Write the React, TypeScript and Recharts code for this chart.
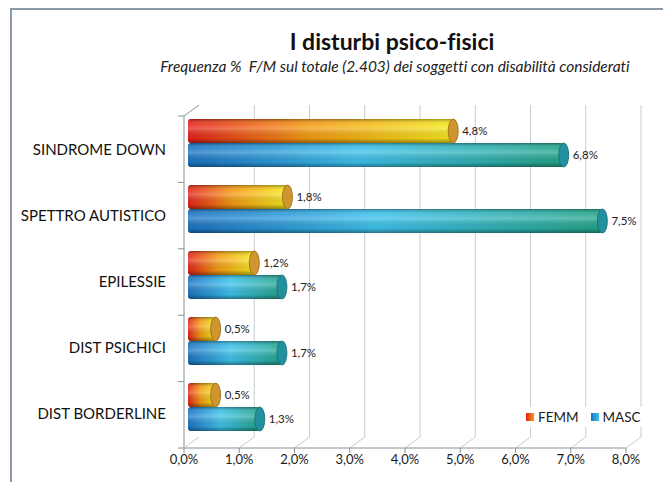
import { BarChart, Bar, XAxis, YAxis, CartesianGrid, LabelList } from 'recharts'

const categories = ['SINDROME DOWN', 'SPETTRO AUTISTICO', 'EPILESSIE', 'DIST PSICHICI', 'DIST BORDERLINE']
const femm = [4.8, 1.8, 1.2, 0.5, 0.5]
const masc = [6.8, 7.5, 1.7, 1.7, 1.3]
const xTicks = [0, 1, 2, 3, 4, 5, 6, 7, 8]

const data = categories.map((c, i) => ({ name: c, femm: femm[i], masc: masc[i] }))

const FONT = 'Lato, "Open Sans", sans-serif'
const DEPTH = 15 // 3d depth of the back wall, px
const RISE = 11

function fmtPct(v: number): string {
  return `${Number(v).toFixed(1).replace('.', ',')}%`
}

// cylinder-like bar: horizontal colour gradient, vertical shading, elliptic end cap
const makeCylinder = (grad: string, cap: string, capEdge: string) => (props: any) => {
  const { y, width, height } = props
  if (!width || width <= 0) return null
  const x = props.x + 4
  const r = height / 2
  const rx = 5
  return (
    <g>
      <rect x={x} y={y} width={width} height={height} rx={3} fill={`url(#${grad})`} />
      <rect x={x} y={y} width={width} height={height} rx={3} fill="url(#shade)" />
      <ellipse cx={x + width} cy={y + r} rx={rx} ry={r} fill={cap} stroke={capEdge} strokeWidth={0.8} />
    </g>
  )
}

const FemmBar = makeCylinder('gFemm', '#cf9630', '#9a6410')
const MascBar = makeCylinder('gMasc', '#23909e', '#146a78')

// vertical grid lines drawn on the back wall, with floor diagonals
const WallLine = (p: any) => {
  const x = p.x1
  const top = p.y1
  const bottom = p.y2
  const stroke = '#c4ccd3'
  if (p.index === 0) {
    return (
      <g key={p.key}>
        <line x1={x} y1={top + RISE} x2={x} y2={bottom} stroke="#8a9096" />
        <line x1={x} y1={top + RISE} x2={x + DEPTH} y2={top} stroke="#8a9096" />
        <line x1={x} y1={bottom} x2={x + DEPTH} y2={bottom - RISE} stroke={stroke} />
      </g>
    )
  }
  return (
    <g key={p.key}>
      <line x1={x + DEPTH} y1={top} x2={x + DEPTH} y2={bottom - RISE} stroke={stroke} />
      <line x1={x + DEPTH} y1={bottom - RISE} x2={x} y2={bottom} stroke={stroke} />
    </g>
  )
}

// small tick marks on the category axis at band boundaries
const BoundaryTick = (p: any) => (
  <line key={p.key} x1={p.x1 - 6} y1={p.y1} x2={p.x1} y2={p.y1} stroke="#8a9096" />
)

const CatTick = (p: any) => (
  <text x={p.x} y={p.y + 7} dy="0.355em" textAnchor="end" fill="#111" fontSize={15} fontFamily={FONT}>
    {p.payload.value}
  </text>
)

export default function App() {
  return (
    <div style={{ position: 'relative', width: 671, height: 490, margin: -8, background: '#fff', overflow: 'hidden', fontFamily: FONT, fontVariantLigatures: 'none' }}>
      {/* chart frame */}
      <div style={{ position: 'absolute', left: 10, top: 8, width: 700, height: 520, borderLeft: '2px solid #8b98a6', borderTop: '2px solid #8b98a6' }} />

      <div style={{ position: 'absolute', left: 92, top: 27, width: 600, textAlign: 'center', fontSize: 23, fontWeight: 700, color: '#111' }}>
        I disturbi psico-fisici
      </div>
      <div style={{ position: 'absolute', left: 95, top: 57, width: 600, textAlign: 'center', fontSize: 15.5, fontStyle: 'italic', color: '#222' }}>
        Frequenza %&nbsp; F/M sul totale (2.403) dei soggetti con disabilità considerati
      </div>

      <BarChart
        width={671}
        height={490}
        data={data}
        layout="vertical"
        margin={{ top: 105, right: 45, bottom: 12, left: 14 }}
        barSize={24}
        barGap={0}
        style={{ position: 'absolute', left: 0, top: 0 }}
      >
        <defs>
          <linearGradient id="gFemm" x1="0" y1="0" x2="1" y2="0">
            <stop offset="0%" stopColor="#e5231b" />
            <stop offset="45%" stopColor="#f39a12" />
            <stop offset="100%" stopColor="#f4e81e" />
          </linearGradient>
          <linearGradient id="gMasc" x1="0" y1="0" x2="1" y2="0">
            <stop offset="0%" stopColor="#1c74c4" />
            <stop offset="45%" stopColor="#3ec2ec" />
            <stop offset="100%" stopColor="#25a58a" />
          </linearGradient>
          <linearGradient id="shade" x1="0" y1="0" x2="0" y2="1">
            <stop offset="0%" stopColor="#000" stopOpacity={0.35} />
            <stop offset="20%" stopColor="#fff" stopOpacity={0.1} />
            <stop offset="40%" stopColor="#fff" stopOpacity={0.25} />
            <stop offset="80%" stopColor="#000" stopOpacity={0.05} />
            <stop offset="100%" stopColor="#000" stopOpacity={0.4} />
          </linearGradient>
        </defs>
        <CartesianGrid
          vertical={WallLine}
          horizontal={BoundaryTick}
          horizontalCoordinatesGenerator={({ offset }: any) =>
            [0, 1, 2, 3, 4, 5].map(k => offset.top + RISE + ((offset.height - RISE) * k) / 5)
          }
        />
        <XAxis
          type="number"
          domain={[0, 8]}
          ticks={xTicks}
          tickFormatter={fmtPct}
          interval={0}
          tick={{ fill: '#1a1a1a', fontSize: 13, fontFamily: FONT }}
          axisLine={{ stroke: '#8a9096' }}
          tickLine={{ stroke: '#8a9096' }}
          tickSize={5}
          height={30}
        />
        <YAxis
          type="category"
          dataKey="name"
          width={170}
          padding={{ top: 5, bottom: 8 }}
          tick={CatTick}
          axisLine={false}
          tickLine={false}
          tickMargin={12}
        />
        <Bar dataKey="femm" name="FEMM" shape={FemmBar} isAnimationActive={false}>
          <LabelList dataKey="femm" position="right" offset={13} formatter={fmtPct} style={{ fill: '#222', fontSize: 11.5, fontFamily: FONT }} />
        </Bar>
        <Bar dataKey="masc" name="MASC" shape={MascBar} isAnimationActive={false}>
          <LabelList dataKey="masc" position="right" offset={13} formatter={fmtPct} style={{ fill: '#222', fontSize: 11.5, fontFamily: FONT }} />
        </Bar>
      </BarChart>

      {/* legend */}
      <div style={{ position: 'absolute', left: 520, top: 407, display: 'flex', alignItems: 'center', fontSize: 13.5, color: '#1a1a1a', background: '#fff', padding: '2px 6px' }}>
        <span style={{ width: 8, height: 8, background: 'linear-gradient(90deg,#e5231b,#f39a12)', marginRight: 4 }} />
        <span style={{ marginRight: 12 }}>FEMM</span>
        <span style={{ width: 8, height: 8, background: 'linear-gradient(90deg,#1c74c4,#3ec2ec)', marginRight: 4 }} />
        <span>MASC</span>
      </div>
    </div>
  )
}
